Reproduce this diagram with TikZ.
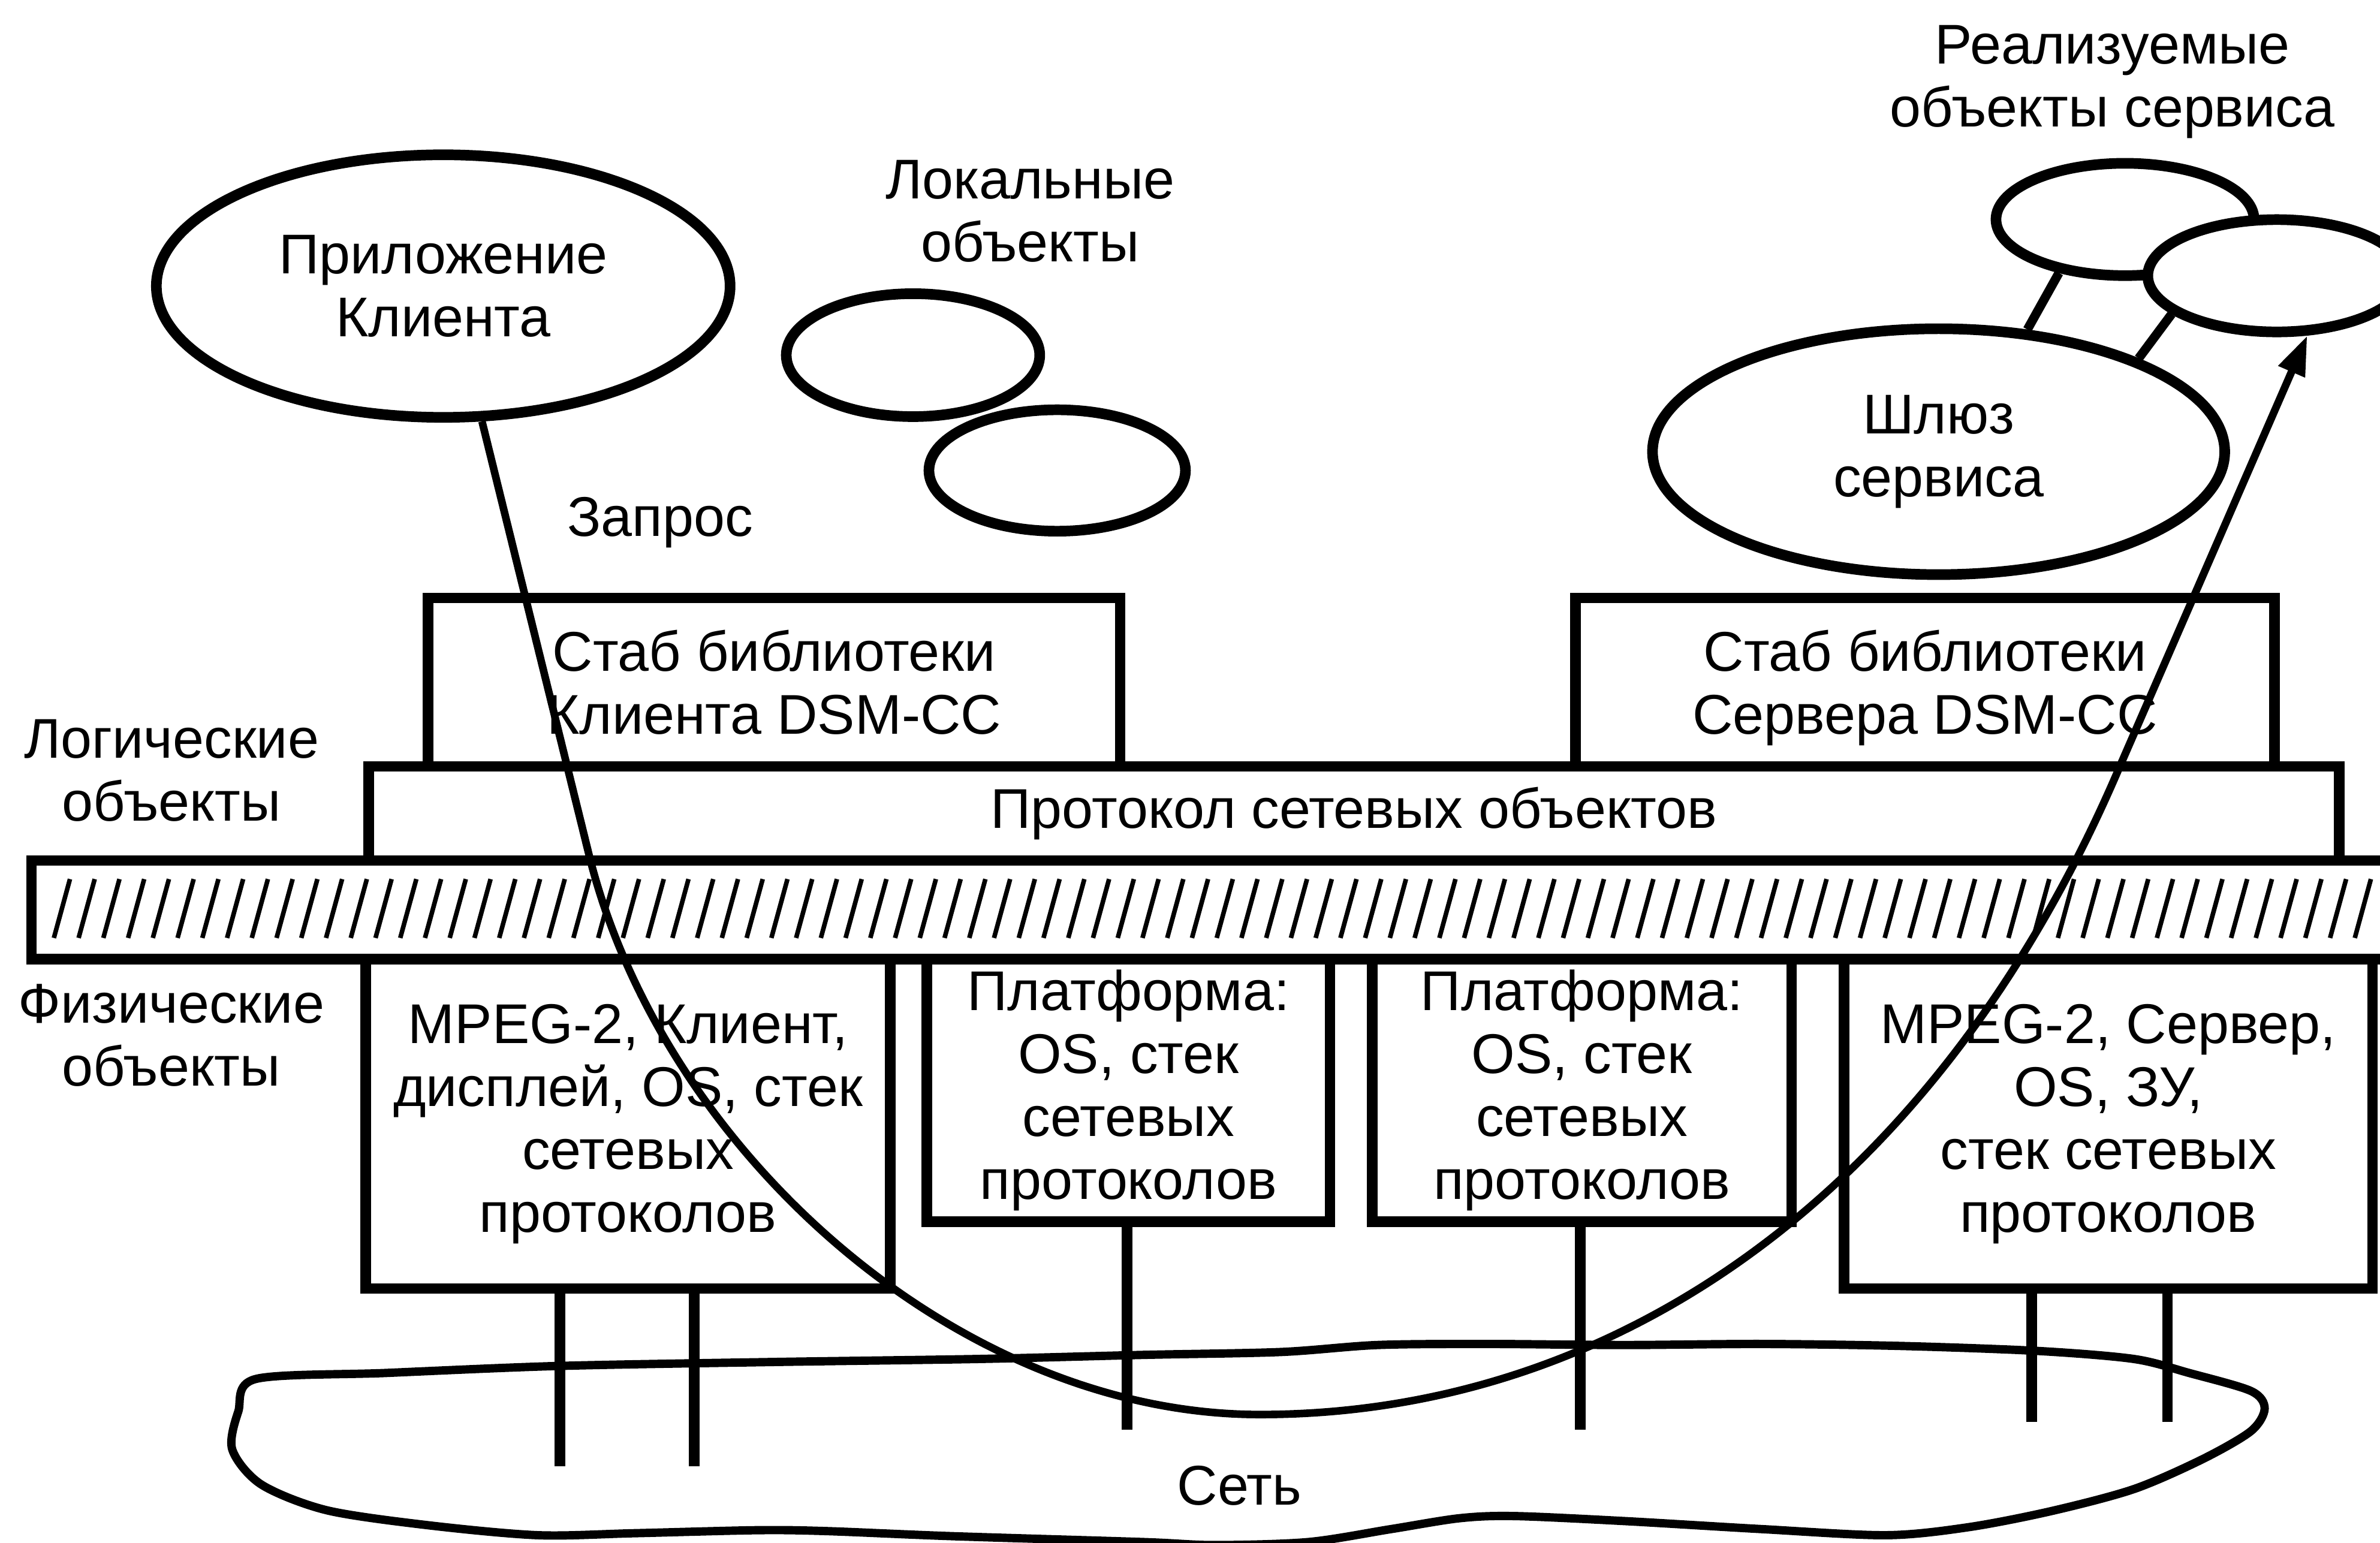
\documentclass[tikz,border=0pt]{standalone}
\usepackage{fontspec}
\setmainfont{Liberation Sans}
\usetikzlibrary{positioning, shapes, arrows.meta}
\tikzset{
    every node/.style={font=\fontsize{10.5}{11.8}\selectfont}, % text size of the whole figure
    box/.style={draw, line width=0.7mm, inner sep=0pt, align=center}, % layer rectangles
    obj/.style={ellipse, draw, line width=0.7mm, fill=white, inner sep=0pt, align=center}, % object ellipses
    lbl/.style={align=center}, % free labels
    wire/.style={line width=0.7mm}, % links down to the network
    link/.style={line width=0.6mm}, % gateway to service objects
    hatch/.style={line width=0.3mm}, % strokes of the border bar
    request/.style={line width=0.5mm, -{Triangle[length=2.6mm, width=1.8mm]}}, % path of the call
}

\begin{document}
\begin{tikzpicture}[x=0.1mm, y=-0.1mm]
    \useasboundingbox (0,0) rectangle (1568,1016.6);

    % objects
    \node[obj, minimum width=37.8mm, minimum height=17.3mm] (app) at (292,188.5) {Приложение\\Клиента};
    \node[obj, minimum width=16.7mm, minimum height=8.1mm] (loc1) at (601.5,234) {};
    \node[obj, minimum width=16.9mm, minimum height=8mm] (loc2) at (696.5,310) {};
    \node[obj, minimum width=17mm, minimum height=7.4mm] (srv1) at (1400,144.6) {};
    \node[obj, minimum width=17mm, minimum height=7.4mm] (srv2) at (1500,181.7) {};
    \node[obj, minimum width=37.7mm, minimum height=16.2mm] (gw) at (1277.2,297.6) {Шлюз\\сервиса};

    \node[lbl] (locl) at (678.7,139.1) {Локальные\\объекты};
    \node[lbl] (srvl) at (1391.7,54.1) {Реализуемые\\объекты сервиса};
    \node[lbl] (ask) at (435,344.4) {Запрос};
    \node[lbl] (logl) at (113,507.5) {Логические\\объекты};
    \node[lbl] (phyl) at (112.8,682.2) {Физические\\объекты};

    % logical layer
    \node[box, text depth=0pt, minimum width=45.6mm, minimum height=11.1mm] (stubc) at (510,449.5) {Стаб библиотеки\\Клиента DSM-CC};
    \node[box, text depth=0pt, minimum width=46.05mm, minimum height=11.1mm] (stubs) at (1268.25,449.5) {Стаб библиотеки\\Сервера DSM-CC};
    \node[box, minimum width=129.8mm, minimum height=6.2mm] (proto) at (892,536) {Протокол сетевых объектов};

    % border between the layers
    \draw[wire] (20.7,567) rectangle (1620,632);
    \foreach \i in {0,...,93}
        \draw[hatch] (35.5+16.3*\i,618) -- (46.1+16.3*\i,579.2);

    % physical layer
    \node[box, minimum width=34.55mm, minimum height=21.7mm] (mpegc) at (413.75,740.5) {MPEG-2, Клиент,\\дисплей, OS, стек\\сетевых\\протоколов};
    \node[box, minimum width=26.55mm, minimum height=17.3mm] (plat1) at (743.45,718.5) {Платформа:\\OS, стек\\сетевых\\протоколов};
    \node[box, minimum width=27.63mm, minimum height=17.3mm] (plat2) at (1042.15,718.5) {Платформа:\\OS, стек\\сетевых\\протоколов};
    \node[box, minimum width=34.8mm, minimum height=21.7mm] (mpegs) at (1389,740.5) {MPEG-2, Сервер,\\OS, ЗУ,\\стек сетевых\\протоколов};

    % network
    \draw[line width=0.55mm] plot[smooth cycle, tension=0.5] coordinates {
        (168.4,908.6) (254.5,904.6) (367.8,900) (508.4,897.4) (644.3,895.4) (753.1,892.7)
        (843.8,890.8) (907.3,886.2) (979.8,885.5) (1070.4,886.2) (1161,885.5) (1251.8,886.8)
        (1342.4,890.1) (1405.9,895.4) (1442.2,904.6) (1483,916.5) (1492,928) (1483,942.9)
        (1451.3,961.3) (1405.9,981.1) (1351.5,995.6) (1297,1006.2) (1242.7,1011.5) (1161,1007.5)
        (1070.4,1002.2) (997.9,998.9) (961.7,1000.3) (916.3,1007.5) (862,1016) (800,1018)
        (753,1016) (626.2,1012.1) (544.6,1008.8) (499.3,1008.2) (417.7,1010.2) (354.2,1011.5)
        (281.7,1004.9) (215,995) (172,978) (153,955) (157,930)};
    \node (net) at (816.6,978.8) {Сеть};

    \coordinate (n1) at (368.8,966);
    \coordinate (n2) at (457.5,966);
    \coordinate (n3) at (742.6,942);
    \coordinate (n4) at (1041.1,942);
    \coordinate (n5) at (1338.5,937);
    \coordinate (n6) at (1428,937);
    \draw[wire] (n1 |- mpegc.south) -- (n1);
    \draw[wire] (n2 |- mpegc.south) -- (n2);
    \draw[wire] (n3 |- plat1.south) -- (n3);
    \draw[wire] (n4 |- plat2.south) -- (n4);
    \draw[wire] (n5 |- mpegs.south) -- (n5);
    \draw[wire] (n6 |- mpegs.south) -- (n6);

    \draw[link] (gw.54) -- (srv1.219);
    \draw[link] (gw.25) -- (srv2.200);

    % the call from client to server
    \draw[request] (app.-74) -- (388,563)
        .. controls (436,757) and (630,932) .. (830,932)
        .. controls (1070,932) and (1279.7,780) .. (1397,504) -- (srv2.-63);
\end{tikzpicture}
\end{document}
